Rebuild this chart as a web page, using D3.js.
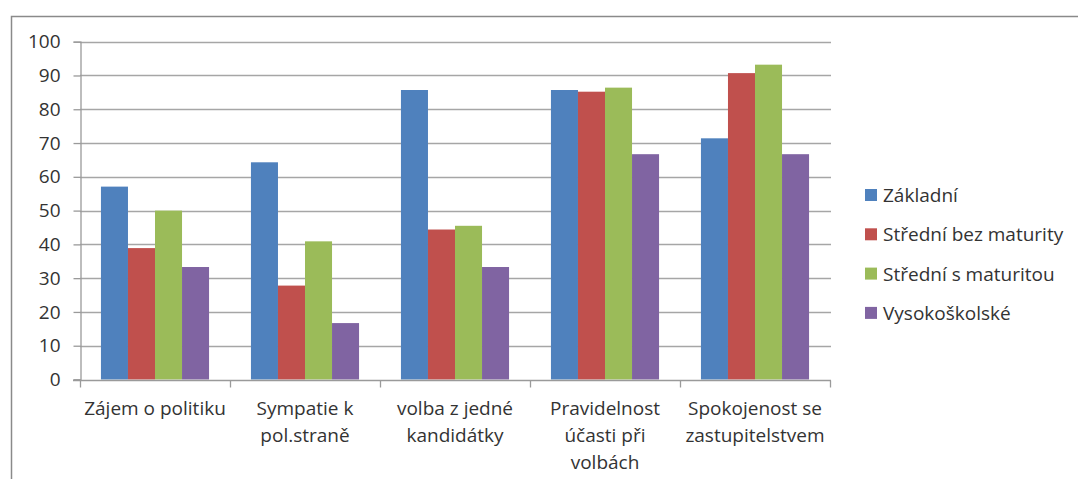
<!DOCTYPE html>
<html><head><meta charset="utf-8">
<script src="https://cdn.jsdelivr.net/npm/d3@7"></script>
<style>body{margin:0;background:#fff}svg{display:block}</style>
</head><body>
<script>
const categories = ["Zájem o politiku","Sympatie k pol.straně","volba z jedné kandidátky","Pravidelnost účasti při volbách","Spokojenost se zastupitelstvem"];
const categoryLines = [["Zájem o politiku"],["Sympatie k","pol.straně"],["volba z jedné","kandidátky"],["Pravidelnost","účasti při","volbách"],["Spokojenost se","zastupitelstvem"]];
const seriesNames = ["Základní","Střední bez maturity","Střední s maturitou","Vysokoškolské"];
const zakladni = [57.1, 64.3, 85.7, 85.7, 71.4];
const stredniBez = [38.9, 27.8, 44.4, 85.2, 90.7];
const stredniS = [50.0, 40.9, 45.5, 86.4, 93.2];
const vysoko = [33.3, 16.7, 33.3, 66.7, 66.7];
const yTicks = [0,10,20,30,40,50,60,70,80,90,100];
const colors = ["#4F81BD","#C0504D","#9BBB59","#8064A2"];
const seriesValues = [zakladni, stredniBez, stredniS, vysoko];

const W = 1078, H = 479;
const svg = d3.select("body").append("svg").attr("width", W).attr("height", H);
const font = "'Open Sans', Lato, sans-serif";
const fs = 19;

// outer border
svg.append("path").attr("d", `M11.5,${H} V16.5 H${W}`).attr("fill","none").attr("stroke","#8a8a8a").attr("stroke-width",1.5);

const x0 = d3.scaleBand().domain(categories).range([80, 830]).paddingInner(0).paddingOuter(0);
const y = d3.scaleLinear().domain([0,100]).range([379.5, 41.7]);
const bandW = x0.bandwidth();
const barW = bandW / 5.55;
const x1 = d3.scaleBand().domain(d3.range(4)).range([0, barW*4]);

// gridlines
svg.append("g").selectAll("line").data(yTicks.filter(t=>t>0)).join("line")
  .attr("x1", 80).attr("x2", 831).attr("y1", d=>Math.round(y(d))+0.5).attr("y2", d=>Math.round(y(d))+0.5)
  .attr("stroke","#a6a6a6").attr("stroke-width",1.3);

// bars
categories.forEach((c, ci) => {
  const gx = x0(c) + (bandW - barW*4)/2;
  svg.append("g").selectAll("rect").data(seriesValues.map((s,si)=>({si, v:s[ci]}))).join("rect")
    .attr("x", d => gx + x1(d.si)).attr("width", x1.bandwidth())
    .attr("y", d => y(d.v)).attr("height", d => y(0) - y(d.v))
    .attr("fill", d => colors[d.si]);
});

// y axis
const yAxis = d3.axisLeft(y).tickValues(yTicks).tickSize(7).tickPadding(13);
const ga = svg.append("g").attr("transform","translate(80.5,0)").call(yAxis);
ga.select(".domain").attr("stroke","#9a9a9a").attr("stroke-width",1.3);
ga.selectAll(".tick line").attr("stroke","#9a9a9a").attr("stroke-width",1.3);
ga.selectAll(".tick text").attr("font-family",font).attr("font-size",fs).attr("fill","#333");

// x axis
const gx = svg.append("g").attr("transform",`translate(0,${Math.round(y(0))+0.5})`);
gx.append("line").attr("x1",73).attr("x2",831).attr("stroke","#9a9a9a").attr("stroke-width",1.3);
const bounds = [80].concat(categories.map(c=>x0(c)+bandW));
gx.selectAll(".tk").data(bounds).join("line").attr("class","tk")
  .attr("x1",d=>Math.round(d)+0.5).attr("x2",d=>Math.round(d)+0.5).attr("y1",0).attr("y2",7)
  .attr("stroke","#9a9a9a").attr("stroke-width",1.3);

categories.forEach((c, ci) => {
  const t = svg.append("text").attr("font-family",font).attr("font-size",fs).attr("fill","#333")
    .attr("text-anchor","middle");
  categoryLines[ci].forEach((ln, li) => {
    t.append("tspan").attr("x", x0(c)+bandW/2).attr("y", 415 + li*27).text(ln);
  });
});

// legend
const lg = svg.append("g");
seriesNames.forEach((n, i) => {
  const yy = 195 + i*39.3;
  lg.append("rect").attr("x",865).attr("y",yy-6).attr("width",12).attr("height",12).attr("fill",colors[i]);
  lg.append("text").attr("x",883).attr("y",yy+7).attr("font-family",font).attr("font-size",fs).attr("fill","#333").text(n);
});
</script>
</body></html>
